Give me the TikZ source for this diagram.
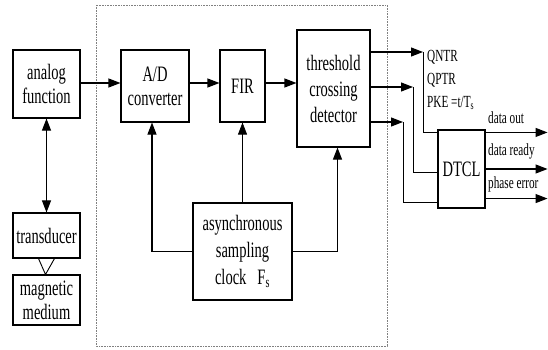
\documentclass[tikz,border=0pt]{standalone}
\usepackage{fontspec}
\setmainfont{Liberation Serif}[FakeStretch=0.66]
\usetikzlibrary{arrows.meta,calc}
\begin{document}
\begin{tikzpicture}[x=1pt,y=-1pt,
  blk/.style={draw,line width=1.1pt,inner sep=0pt,align=center,font=\fontsize{22}{24}\selectfont},
  tip/.tip={Triangle[length=12pt,width=9pt]},
  sig/.style={line width=1.1pt,-tip},
  wire/.style={line width=0.9pt},
  lbl/.style={inner sep=0pt,anchor=west,font=\fontsize{17}{18}\selectfont}]

\useasboundingbox (0,0) rectangle (548,350);
\draw[densely dotted,gray,line width=0.6pt] (96,5) rectangle (387,346);

\node[blk,minimum width=67pt,minimum height=68pt] (analog) at (46.5,84) {analog\\function};
\node[blk,minimum width=68pt,minimum height=72pt] (ad) at (155,86) {A/D\\converter};
\node[blk,minimum width=45pt,minimum height=72pt] (fir) at (242.5,86) {FIR};
\node[blk,minimum width=73pt,minimum height=117pt,font=\fontsize{22}{26}\selectfont] (tcd) at (333.5,88.5) {threshold\\crossing\\detector};
\node[blk,minimum width=47pt,minimum height=78pt] (dtcl) at (461.5,169) {DTCL};
\node[blk,minimum width=67pt,minimum height=45pt] (trans) at (46.5,235.5) {transducer};
\node[blk,minimum width=67pt,minimum height=50pt] (mag) at (46.5,300) {magnetic\\medium};
\node[blk,minimum width=99pt,minimum height=97pt,font=\fontsize{22}{27}\selectfont] (clock) at (242.5,251.5) {asynchronous\\sampling\\clock\enspace F\textsubscript{s}};

\draw[sig] (analog.east |- 0,83) -- (ad.west |- 0,83);
\draw[sig] (ad.east |- 0,83) -- (fir.west |- 0,83);
\draw[sig] (fir.east |- 0,83) -- (tcd.west |- 0,83);
\draw[line width=1pt,tip-tip] (analog.south) -- (trans.north);
\draw[wire] ($(trans.south)+(-8,0)$) -- ($(mag.north)+(-1,0)$) -- ($(trans.south)+(8,0)$);

\draw[sig] (clock.west) -| ($(ad.south)+(-3,0)$);
\draw[sig,line width=0.7pt] (clock.north) -- (fir.south);
\draw[sig] (clock.east) -| ($(tcd.south)+(4,0)$);

\coordinate (q1) at (423,52);
\coordinate (q2) at (413,87);
\coordinate (q3) at (403,122);
\draw[sig] (tcd.east |- q1) -- (q1);
\draw[sig] (tcd.east |- q2) -- (q2);
\draw[sig] (tcd.east |- q3) -- (q3);
\draw[wire] (q1) |- ($(dtcl.north west)+(0,3)$);
\draw[wire] (q2) |- ($(dtcl.west)+(0,3)$);
\draw[wire] (q3) |- ($(dtcl.south west)+(0,-6)$);

\node[lbl] (qntr) at (427,57) {QNTR};
\node[lbl] (qptr) at (427,80) {QPTR};
\node[lbl] (pke) at (427,103) {PKE\,=t/T\textsubscript{s}};

\draw[sig] ($(dtcl.north east)+(0,3)$) -- ++(62,0);
\draw[sig] (dtcl.east) -- ++(62,0);
\draw[sig] ($(dtcl.south east)+(0,-10)$) -- ++(62,0);

\node[lbl] (dout) at (488,118) {data out};
\node[lbl] (dready) at (488,151) {data ready};
\node[lbl] (perr) at (488,184) {phase error};

\end{tikzpicture}
\end{document}
